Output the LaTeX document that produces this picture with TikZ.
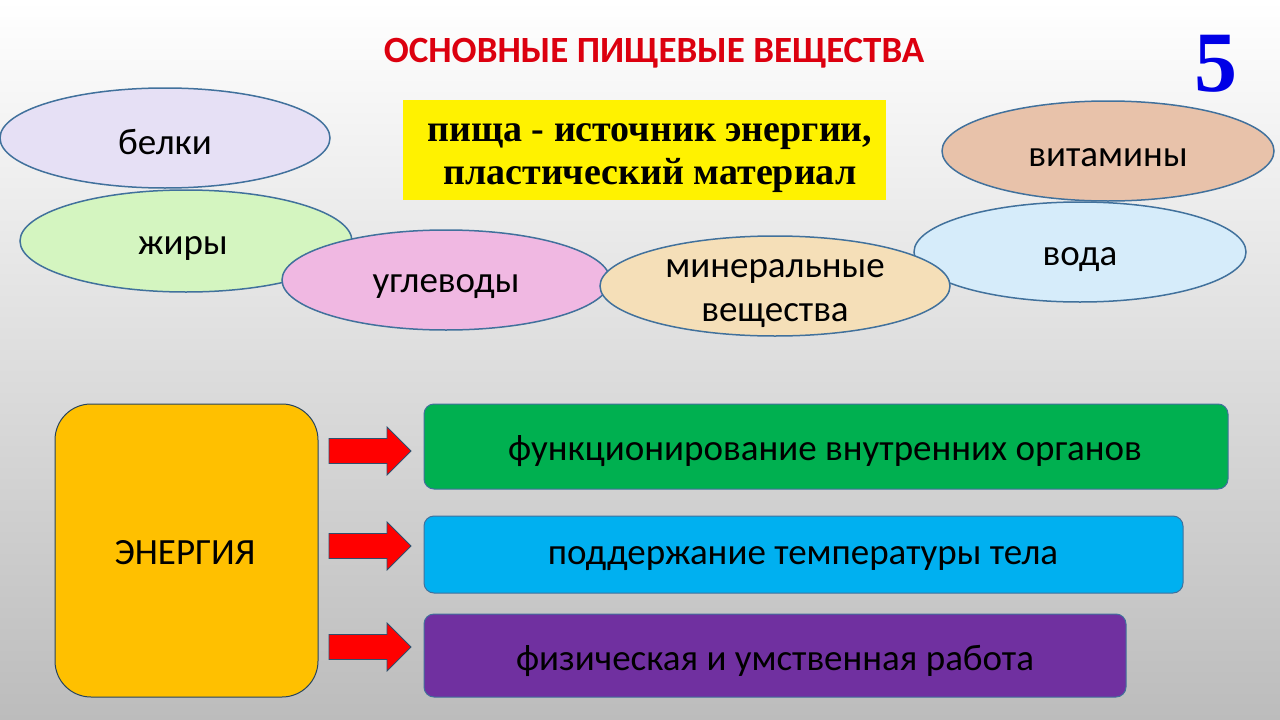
\documentclass[tikz,border=0pt]{standalone}
\usepackage{fontspec}
\usetikzlibrary{shapes.geometric}
\setmainfont{Carlito}
\newfontfamily\timesf{Liberation Serif}
\definecolor{bgbot}{RGB}{188,188,188}
\definecolor{bgmid}{RGB}{234,234,234}
\definecolor{edge}{RGB}{65,113,156}
\definecolor{titlered}{RGB}{220,0,15}
\definecolor{cbelki}{RGB}{230,224,245}
\definecolor{czhiry}{RGB}{212,245,192}
\definecolor{cuglev}{RGB}{240,184,226}
\definecolor{cminer}{RGB}{245,223,184}
\definecolor{cvitam}{RGB}{232,194,170}
\definecolor{cvoda}{RGB}{214,236,250}
\definecolor{cenergy}{RGB}{255,192,0}
\definecolor{cgreen}{RGB}{0,176,80}
\definecolor{ccyan}{RGB}{0,176,240}
\definecolor{cpurple}{RGB}{112,48,160}
\definecolor{arrowred}{RGB}{255,0,0}
\begin{document}
\begin{tikzpicture}[x=1pt,y=-1pt,
  oval/.style={draw=edge, line width=1.5pt, ellipse, inner sep=0pt},
  lbl/.style={font=\fontsize{37}{44}\selectfont, align=center, inner sep=0pt},
  card/.style={draw=edge, line width=1pt, rounded corners=10pt, inner sep=0pt},
  blockarrow/.style={draw=edge!70!black, line width=0.8pt, fill=arrowred}]
\useasboundingbox (0,0) rectangle (1280,720);
\shade[top color=white, middle color=bgmid, bottom color=bgbot] (0,0) rectangle (1280,720);
% title
\node[text=titlered, font=\fontsize{37}{40}\selectfont\bfseries] (title) at (654,53) {ОСНОВНЫЕ ПИЩЕВЫЕ ВЕЩЕСТВА};
\node[text={rgb,255:red,0;green,0;blue,230}, font=\timesf\bfseries\fontsize{86}{90}\selectfont] (num) at (1216,64) {5};
% yellow box
\node[fill=yellow, minimum width=483pt, minimum height=100pt, inner sep=0pt] (food) at (644.5,150) {};
\node[align=center, inner sep=0pt, font=\timesf\bfseries\fontsize{38}{43}\selectfont] (foodtext) at (650,158) {пища - источник энергии,\\пластический материал};
% ellipses
\node[oval, fill=cbelki, minimum width=330pt, minimum height=100pt] (belki) at (165,138) {};
\node[lbl] (belkitext) at (165,142) {белки};
\node[oval, fill=czhiry, minimum width=332pt, minimum height=102pt] (zhiry) at (186,241) {};
\node[lbl] (zhirytext) at (183,248) {жиры};
\node[oval, fill=cuglev, minimum width=328pt, minimum height=100pt] (uglev) at (446,280) {};
\node[lbl] (uglevtext) at (446,287) {углеводы};
\node[oval, fill=cvitam, minimum width=332pt, minimum height=100pt] (vitam) at (1108,151) {};
\node[lbl] (vitamtext) at (1108,158) {витамины};
\node[oval, fill=cvoda, minimum width=332pt, minimum height=100pt] (voda) at (1080,252) {};
\node[lbl] (vodatext) at (1080,260) {вода};
\node[oval, fill=cminer, minimum width=350pt, minimum height=100pt] (miner) at (775,286) {};
\node[lbl] (minertext) at (775,294) {минеральные\\вещества};
% energy box
\node[draw=edge!60!black, line width=1pt, fill=cenergy, rounded corners=36pt, minimum width=263pt, minimum height=293pt,
  inner sep=0pt] (energy) at (186.5,550.5) {};
\node[lbl] (energytext) at (185,553) {ЭНЕРГИЯ};
% outcome boxes
\node[card, fill=cgreen, minimum width=804pt, minimum height=85pt] (organs) at (826,446.5) {};
\node[lbl] (organstext) at (825,451) {функционирование внутренних органов};
\node[card, fill=ccyan, minimum width=759pt, minimum height=77pt] (temp) at (803.5,554.5) {};
\node[lbl] (temptext) at (803,559) {поддержание температуры тела};
\node[card, fill=cpurple, minimum width=702pt, minimum height=83pt] (work) at (775,655.5) {};
\node[lbl] (worktext) at (775,661) {физическая и умственная работа};
% block arrows
\foreach \y/\n in {451/a1, 546/a2, 647/a3}{
  \coordinate (\n) at (370,\y);
  \draw[blockarrow] ([shift={(-41,-12.5)}]\n) -- ([shift={(17,-12.5)}]\n) -- ([shift={(17,-24)}]\n)
    -- ([shift={(41,0)}]\n) -- ([shift={(17,24)}]\n) -- ([shift={(17,12.5)}]\n)
    -- ([shift={(-41,12.5)}]\n) -- cycle;
}
\end{tikzpicture}
\end{document}
